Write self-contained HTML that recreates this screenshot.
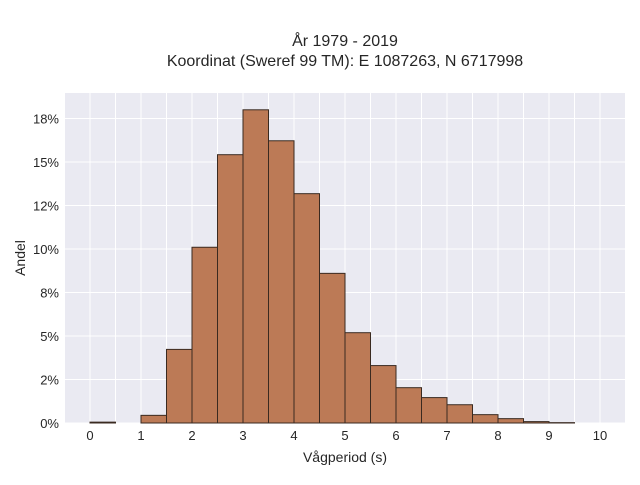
<!DOCTYPE html>
<html><head><meta charset="utf-8"><style>
body{margin:0;background:#fff;}
svg text{font-family:"Liberation Sans",sans-serif;fill:#262626;}
</style></head><body>
<svg id="chart" width="640" height="480" xmlns="http://www.w3.org/2000/svg">
<text x="345" y="46" text-anchor="middle" font-size="16">År 1979 - 2019</text>
<text x="345" y="66" text-anchor="middle" font-size="16">Koordinat (Sweref 99 TM): E 1087263, N 6717998</text>
<rect x="65" y="93" width="560" height="330" fill="#eaeaf2"/>
<g id="grid"></g>
<g id="bars"></g>
<g id="ticks"></g>
<text x="345" y="462" text-anchor="middle" font-size="14">Vågperiod (s)</text>
<text transform="translate(25,258) rotate(-90)" text-anchor="middle" font-size="14">Andel</text>
</svg>
<script>
const binStarts=[0,0.5,1,1.5,2,2.5,3,3.5,4,4.5,5,5.5,6,6.5,7,7.5,8,8.5,9];
const binValues=[0.05,0,0.44,4.23,10.1,15.42,18.0,16.22,13.18,8.6,5.19,3.3,2.03,1.46,1.05,0.48,0.25,0.08,0.02];
const xTicks=[0,1,2,3,4,5,6,7,8,9,10];
const yTicks=[0,2.5,5,7.5,10,12.5,15,17.5];
const yTickLabels=["0%","2%","5%","8%","10%","12%","15%","18%"];
const binWidth=0.5;
const NS="http://www.w3.org/2000/svg";
const xs=v=>90+v*51;
const ys=v=>423-v*17.4;
const grid=document.getElementById('grid'),bars=document.getElementById('bars'),ticks=document.getElementById('ticks');
function mk(tag,attrs,parent){const e=document.createElementNS(NS,tag);for(const k in attrs)e.setAttribute(k,attrs[k]);parent.appendChild(e);return e;}
for(let v=0;v<=10.5;v+=0.5){const l=mk('line',{x1:xs(v),x2:xs(v),y1:93,y2:423,stroke:'#fff','stroke-width':1},grid);

}
yTicks.forEach((v,i)=>{const l=mk('line',{x1:65,x2:625,y1:ys(v),y2:ys(v),stroke:'#fff','stroke-width':1},grid);


const t=mk('text',{x:59,y:ys(v)+5,'text-anchor':'end','font-size':13},ticks);t.textContent=yTickLabels[i];

});
xTicks.forEach(v=>{const t=mk('text',{x:xs(v),y:440,'text-anchor':'middle','font-size':13},ticks);t.textContent=v;

});
binStarts.forEach((s,i)=>{const v=binValues[i];if(v<=0)return;
const r=mk('rect',{x:xs(s),y:ys(v),width:xs(s+binWidth)-xs(s),height:ys(0)-ys(v),fill:'#bc7a56',stroke:'#3a2a20','stroke-width':1},bars);

});
</script>
</body></html>
